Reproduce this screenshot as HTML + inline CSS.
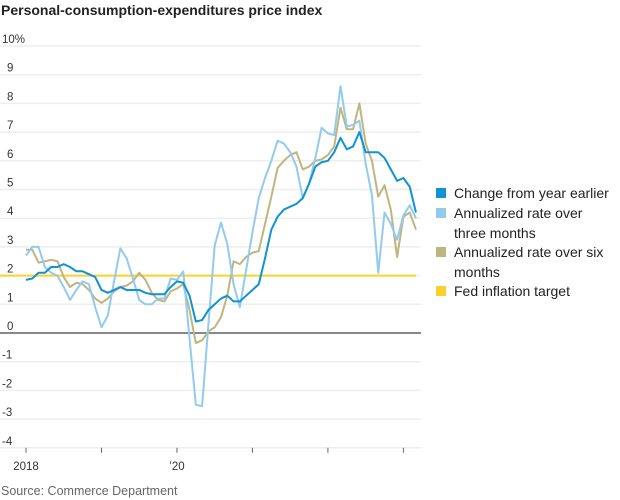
<!DOCTYPE html>
<html><head><meta charset="utf-8"><style>
body{margin:0;background:#fff;font-family:"Liberation Sans",sans-serif;}
#wrap{position:relative;width:620px;height:500px;overflow:hidden;}
.title{position:absolute;left:1px;top:2px;font-weight:bold;font-size:14px;color:#222;}
.src{position:absolute;left:1px;top:484px;font-size:12.5px;color:#666;}
.leg{position:absolute;left:436px;font-size:14px;color:#222;line-height:19.5px;white-space:nowrap;}
.leg i{position:absolute;left:0;top:4px;width:10px;height:10px;}
.leg span{display:block;padding-left:18px;}
</style></head><body><div id="wrap">
<div class="title">Personal-consumption-expenditures price index</div>
<svg id="svg" width="620" height="500" style="position:absolute;left:0;top:0"></svg>
<div class="leg" style="top:184px"><i style="background:#0f93d2"></i><span>Change from year earlier</span></div>
<div class="leg" style="top:204px"><i style="background:#92cbee"></i><span>Annualized rate over<br>three months</span></div>
<div class="leg" style="top:243px"><i style="background:#bfb57e"></i><span>Annualized rate over six<br>months</span></div>
<div class="leg" style="top:282px"><i style="background:#fcd22a"></i><span>Fed inflation target</span></div>
<div class="src">Source: Commerce Department</div>
</div>
<script>
const yTicks=[10,9,8,7,6,5,4,3,2,1,0,-1,-2,-3,-4];
const yLabels=["10%","9","8","7","6","5","4","3","2","1","0","-1","-2","-3","-4"];
const xTickYears=[2018,2019,2020,2021,2022,2023];
const xTickLabels=["2018","","’20","","",""];
const yoy=[1.85,1.9,2.1,2.1,2.3,2.3,2.4,2.3,2.15,2.15,2.05,1.95,
1.5,1.4,1.5,1.6,1.5,1.5,1.5,1.4,1.35,1.35,1.35,1.6,
1.8,1.75,1.3,0.4,0.45,0.8,1.0,1.2,1.3,1.1,1.1,1.3,
1.5,1.7,2.6,3.6,4.05,4.3,4.4,4.5,4.7,5.2,5.8,5.95,
6.0,6.3,6.8,6.4,6.5,7.0,6.3,6.3,6.3,6.1,5.7,5.3,
5.4,5.1,4.2];
const threeMonth=[2.7,3.0,3.0,2.3,2.1,2.0,1.6,1.15,1.5,1.8,1.7,0.9,
0.2,0.6,1.8,2.95,2.6,1.9,1.15,1.0,1.0,1.2,1.2,1.9,
1.85,2.15,-0.2,-2.5,-2.55,0.3,3.05,3.85,3.1,1.7,0.9,2.2,
3.5,4.7,5.4,6.0,6.7,6.6,6.3,5.8,4.7,5.2,6.1,7.15,
6.95,6.9,8.6,7.2,7.25,7.4,5.9,4.8,2.1,4.2,3.8,3.25,
4.1,4.45,4.0];
const sixMonth=[2.9,2.9,2.45,2.5,2.55,2.5,1.95,1.6,1.75,1.7,1.5,1.2,
1.05,1.2,1.45,1.6,1.65,1.8,2.1,1.85,1.4,1.15,1.1,1.45,
1.55,1.7,0.8,-0.35,-0.25,0.05,0.2,0.55,1.3,2.5,2.4,2.65,
2.8,2.85,3.8,4.75,5.75,6.0,6.2,6.3,5.7,5.8,6.0,6.05,
6.2,6.5,7.85,7.1,7.1,8.0,6.6,6.0,4.75,5.15,4.3,2.65,
4.05,4.2,3.6];
const target=2;
const NS="http://www.w3.org/2000/svg";
const svg=document.getElementById('svg');
const y=v=>333-v*28.7;
const x=i=>26+i*6.29;
function el(t,a){const e=document.createElementNS(NS,t);for(const k in a)e.setAttribute(k,a[k]);svg.appendChild(e);return e;}
yTicks.forEach((v,k)=>{
 const g=el('line',{x1:0,x2:421,y1:y(v),y2:y(v),stroke:v===0?'#888':'#eee','stroke-width':v===0?2:1.5});
 
 
 const t=el('text',{x:v>=10?2:(v<0?2:7),y:y(v)-3,'font-size':11.5,fill:'#333','font-family':'Liberation Sans, sans-serif'});
 t.textContent=yLabels[k];
 
 
});
xTickYears.forEach((yr,k)=>{
 const xx=x((yr-2018)*12);
 const l=el('line',{x1:xx,x2:xx,y1:y(-4),y2:y(-4)+5,stroke:'#666','stroke-width':1});
 
 
 if(xTickLabels[k]){const t=el('text',{x:xx,y:470,'font-size':11.5,fill:'#333','text-anchor':'middle','font-family':'Liberation Sans, sans-serif'});t.textContent=xTickLabels[k];
 
 }
});
const tl=el('line',{x1:0,x2:x(yoy.length-1),y1:y(target),y2:y(target),stroke:'#fcd22a','stroke-width':2});


function series(d,c,name){const p=el('polyline',{points:d.map((v,i)=>x(i)+','+y(v)).join(' '),fill:'none',stroke:c,'stroke-width':2,'stroke-linejoin':'round'});
 
 }
series(sixMonth,'#bfb57e','six-month-line');
series(threeMonth,'#92cbee','three-month-line');
series(yoy,'#0f93d2','year-over-year-line');
</script></body></html>
